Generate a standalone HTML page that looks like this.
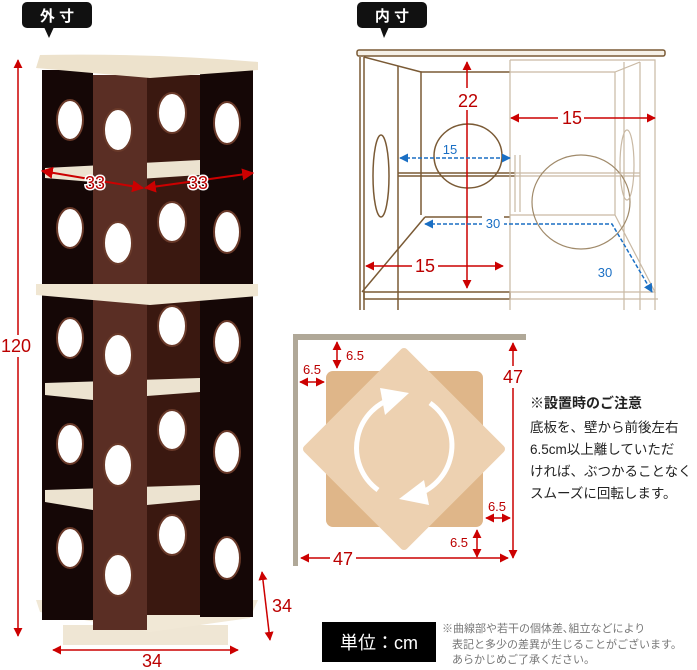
<!DOCTYPE html>
<html><head><meta charset="utf-8"><style>
body{margin:0;background:#fff;width:697px;height:670px;overflow:hidden;font-family:"Liberation Sans","Noto Sans CJK JP",sans-serif}
svg{position:absolute;left:0;top:0}
.t{position:absolute;color:#222;font-size:13.5px;line-height:22px;white-space:nowrap}
</style></head><body>
<svg width="697" height="670" viewBox="0 0 697 670" font-family="Liberation Sans, Noto Sans CJK JP, sans-serif">
<defs>
<marker id="ar" viewBox="0 0 10 10" refX="9" refY="5" markerWidth="6" markerHeight="6" orient="auto-start-reverse"><path d="M0,0L10,5L0,10z" fill="#c00"/></marker>
<marker id="ab" viewBox="0 0 10 10" refX="9" refY="5" markerWidth="6" markerHeight="6" orient="auto-start-reverse"><path d="M0,0L10,5L0,10z" fill="#1a6fc4"/></marker>
</defs>
<!-- labels -->
<rect x="22" y="2" width="70" height="26" rx="5" fill="#111"/><path d="M44,27L49,38L54,27z" fill="#111"/>
<text x="57" y="21" fill="#fff" font-size="15" font-weight="bold" text-anchor="middle">外 寸</text>
<rect x="357" y="2" width="70" height="26" rx="5" fill="#111"/><path d="M380,27L384,38L389,27z" fill="#111"/>
<text x="392" y="21" fill="#fff" font-size="15" font-weight="bold" text-anchor="middle">内 寸</text>
<!-- tower -->
<path d="M63,625L228,625L228,645L63,645z" fill="#efe6d4"/>
<path d="M36,600L258,600L250,618L150,632L40,612z" fill="#f1e8d6"/>
<rect x="147" y="75" width="53" height="540" fill="#3a1810"/>
<rect x="42" y="70" width="51" height="550" fill="#150706"/>
<rect x="200" y="70" width="53" height="547" fill="#150706"/>
<path d="M45,168L200,160L200,175L93,182L45,178z" fill="#ece3d0"/>
<path d="M45,383L200,378L200,392L93,400L45,395z" fill="#ece3d0"/>
<path d="M45,490L200,485L200,500L93,510L45,502z" fill="#ece3d0"/>
<rect x="93" y="75" width="54" height="555" fill="#5a2e24"/>
<path d="M40,55Q150,53 258,62L258,70L150,78L36,68z" fill="#ede2cc"/>
<path d="M36,284L258,284L258,296L150,305L36,295z" fill="#f0e6d2"/>
<g fill="#fff" stroke="#6a3a2a" stroke-width="2">
<ellipse cx="70" cy="120" rx="13" ry="20"/><ellipse cx="70" cy="228" rx="13" ry="20"/><ellipse cx="70" cy="338" rx="13" ry="20"/><ellipse cx="70" cy="444" rx="13" ry="20"/><ellipse cx="70" cy="548" rx="13" ry="20"/>
<ellipse cx="118" cy="130" rx="14" ry="21"/><ellipse cx="118" cy="243" rx="14" ry="21"/><ellipse cx="118" cy="355" rx="14" ry="21"/><ellipse cx="118" cy="465" rx="14" ry="21"/><ellipse cx="118" cy="575" rx="14" ry="21"/>
<ellipse cx="172" cy="113" rx="14" ry="20"/><ellipse cx="172" cy="222" rx="14" ry="20"/><ellipse cx="172" cy="326" rx="14" ry="20"/><ellipse cx="172" cy="430" rx="14" ry="20"/><ellipse cx="172" cy="535" rx="14" ry="20"/>
<ellipse cx="227" cy="123" rx="13" ry="21"/><ellipse cx="227" cy="232" rx="13" ry="21"/><ellipse cx="227" cy="342" rx="13" ry="21"/><ellipse cx="227" cy="452" rx="13" ry="21"/><ellipse cx="227" cy="558" rx="13" ry="21"/>
</g>
<!-- tower dims -->
<line x1="18" y1="60" x2="18" y2="636" stroke="#c00" stroke-width="1.5" marker-start="url(#ar)" marker-end="url(#ar)"/>
<rect x="0" y="335" width="34" height="22" fill="#fff"/><text x="16" y="352" fill="#b00" font-size="18" text-anchor="middle">120</text>
<line x1="42" y1="171" x2="143" y2="188" stroke="#c00" stroke-width="2" marker-start="url(#ar)" marker-end="url(#ar)"/>
<line x1="145" y1="188" x2="253" y2="173" stroke="#c00" stroke-width="2" marker-start="url(#ar)" marker-end="url(#ar)"/>
<text x="95" y="189" fill="#b00" stroke="#fff" stroke-width="3" paint-order="stroke" font-size="18" text-anchor="middle">33</text>
<text x="198" y="189" fill="#b00" stroke="#fff" stroke-width="3" paint-order="stroke" font-size="18" text-anchor="middle">33</text>
<line x1="53" y1="650" x2="238" y2="650" stroke="#c00" stroke-width="1.5" marker-start="url(#ar)" marker-end="url(#ar)"/>
<text x="152" y="667" fill="#b00" font-size="18" text-anchor="middle">34</text>
<line x1="262" y1="572" x2="270" y2="640" stroke="#c00" stroke-width="1.5" marker-start="url(#ar)" marker-end="url(#ar)"/>
<text x="282" y="612" fill="#b00" font-size="18" text-anchor="middle">34</text>
<!-- inner diagram -->
<g stroke="#7a5a35" stroke-width="1.5" fill="none">
<rect x="357" y="50" width="308" height="6" rx="2" fill="#f6f1e8"/>
<line x1="360" y1="57" x2="360" y2="310"/><line x1="364" y1="57" x2="364" y2="310"/>
<path d="M364,57L421,72L421,215"/><line x1="398" y1="66" x2="398" y2="310"/>
<line x1="421" y1="72" x2="510" y2="72"/>
<path d="M425,217L510,217M425,217L362,292"/>
<rect x="364" y="292" width="146" height="7"/>
<line x1="398" y1="173" x2="515" y2="173"/><line x1="398" y1="176" x2="515" y2="176"/>
<ellipse cx="468" cy="156" rx="34" ry="32"/>
<ellipse cx="381" cy="176" rx="8" ry="41"/>
</g>
<g stroke="#c9b9a4" stroke-width="1.2" fill="none">
<path d="M510,60L655,60L655,310M510,60L510,310M510,72L615,72L615,215L510,215M615,72L640,62M615,215L655,292L510,292M510,299L658,299M515,173L640,173M515,176L640,176M640,62L640,310M624,62L624,310M515,155L515,212M520,155L520,212"/>
<ellipse cx="581" cy="202" rx="49" ry="47" stroke="#a08a6a"/>
<ellipse cx="627" cy="165" rx="7" ry="35"/>
</g>
<line x1="467" y1="62" x2="467" y2="288" stroke="#c00" stroke-width="1.5" marker-start="url(#ar)" marker-end="url(#ar)"/>
<rect x="455" y="88" width="26" height="22" fill="#fff"/><text x="468" y="107" fill="#b00" font-size="18" text-anchor="middle">22</text>
<line x1="511" y1="118" x2="655" y2="118" stroke="#c00" stroke-width="1.5" marker-start="url(#ar)" marker-end="url(#ar)"/>
<rect x="558" y="108" width="26" height="20" fill="#fff"/><text x="572" y="124" fill="#b00" font-size="18" text-anchor="middle">15</text>
<line x1="366" y1="266" x2="503" y2="266" stroke="#c00" stroke-width="1.5" marker-start="url(#ar)" marker-end="url(#ar)"/>
<rect x="412" y="256" width="26" height="20" fill="#fff"/><text x="425" y="272" fill="#b00" font-size="18" text-anchor="middle">15</text>
<line x1="400" y1="158" x2="510" y2="158" stroke="#1a6fc4" stroke-width="1.5" stroke-dasharray="4,2" marker-start="url(#ab)" marker-end="url(#ab)"/>
<text x="450" y="154" fill="#1a6fc4" font-size="13" text-anchor="middle">15</text>
<path d="M425,224L612,224L652,292" stroke="#1a6fc4" stroke-width="1.5" stroke-dasharray="4,2" fill="none" marker-start="url(#ab)" marker-end="url(#ab)"/>
<rect x="482" y="214" width="22" height="16" fill="#fff"/><text x="493" y="228" fill="#1a6fc4" font-size="13" text-anchor="middle">30</text>
<text x="605" y="277" fill="#1a6fc4" font-size="13" text-anchor="middle">30</text>
<!-- rotation diagram -->
<path d="M293,334L526,334L526,340L298,340L298,566L293,566z" fill="#b0a898"/>
<rect x="326" y="371" width="157" height="156" rx="7" fill="#dfb689"/>
<path d="M404,352L501,449L404,546L307,449z" fill="#edd1b1" stroke="#edd1b1" stroke-width="8" stroke-linejoin="round"/>
<path d="M378,490A52,52 0 0,1 398,397" fill="none" stroke="#fff" stroke-width="5"/>
<path d="M380,388L409,393L385,415z" fill="#fff"/>
<path d="M430,403A52,52 0 0,1 412,496" fill="none" stroke="#fff" stroke-width="5"/>
<path d="M429,505L399,499L424,480z" fill="#fff"/>
<g stroke="#c00" stroke-width="1.5" fill="none">
<line x1="337" y1="342" x2="337" y2="368" marker-start="url(#ar)" marker-end="url(#ar)"/>
<line x1="300" y1="382" x2="324" y2="382" marker-start="url(#ar)" marker-end="url(#ar)"/>
<line x1="513" y1="343" x2="513" y2="558" marker-start="url(#ar)" marker-end="url(#ar)"/>
<line x1="486" y1="518" x2="510" y2="518" marker-start="url(#ar)" marker-end="url(#ar)"/>
<line x1="477" y1="530" x2="477" y2="557" marker-start="url(#ar)" marker-end="url(#ar)"/>
<line x1="301" y1="558" x2="508" y2="558" marker-start="url(#ar)" marker-end="url(#ar)"/>
</g>
<text x="355" y="360" fill="#b00" font-size="13" text-anchor="middle">6.5</text>
<text x="312" y="374" fill="#b00" font-size="13" text-anchor="middle">6.5</text>
<rect x="503" y="366" width="22" height="22" fill="#fff"/><text x="513" y="383" fill="#b00" font-size="18" text-anchor="middle">47</text>
<text x="497" y="511" fill="#b00" font-size="13" text-anchor="middle">6.5</text>
<text x="459" y="547" fill="#b00" font-size="13" text-anchor="middle">6.5</text>
<rect x="330" y="548" width="26" height="20" fill="#fff"/><text x="343" y="565" fill="#b00" font-size="18" text-anchor="middle">47</text>
<!-- unit box -->
<rect x="322" y="622" width="114" height="40" fill="#000"/>
<text x="379" y="649" fill="#fff" font-size="18" text-anchor="middle">単位：cm</text>
<text x="442" y="632" fill="#777" font-size="11">※曲線部や若干の個体差､組立などにより</text>
<text x="452" y="648" fill="#777" font-size="11">表記と多少の差異が生じることがございます。</text>
<text x="452" y="663" fill="#777" font-size="11">あらかじめご了承ください。</text>
</svg>
<div class="t" style="left:530px;top:392px;font-weight:bold;font-size:14px">※設置時のご注意</div>
<div class="t" style="left:530px;top:417px">底板を、壁から前後左右<br>6.5cm以上離していただ<br>ければ、ぶつかることなく<br>スムーズに回転します。</div>
</body></html>
